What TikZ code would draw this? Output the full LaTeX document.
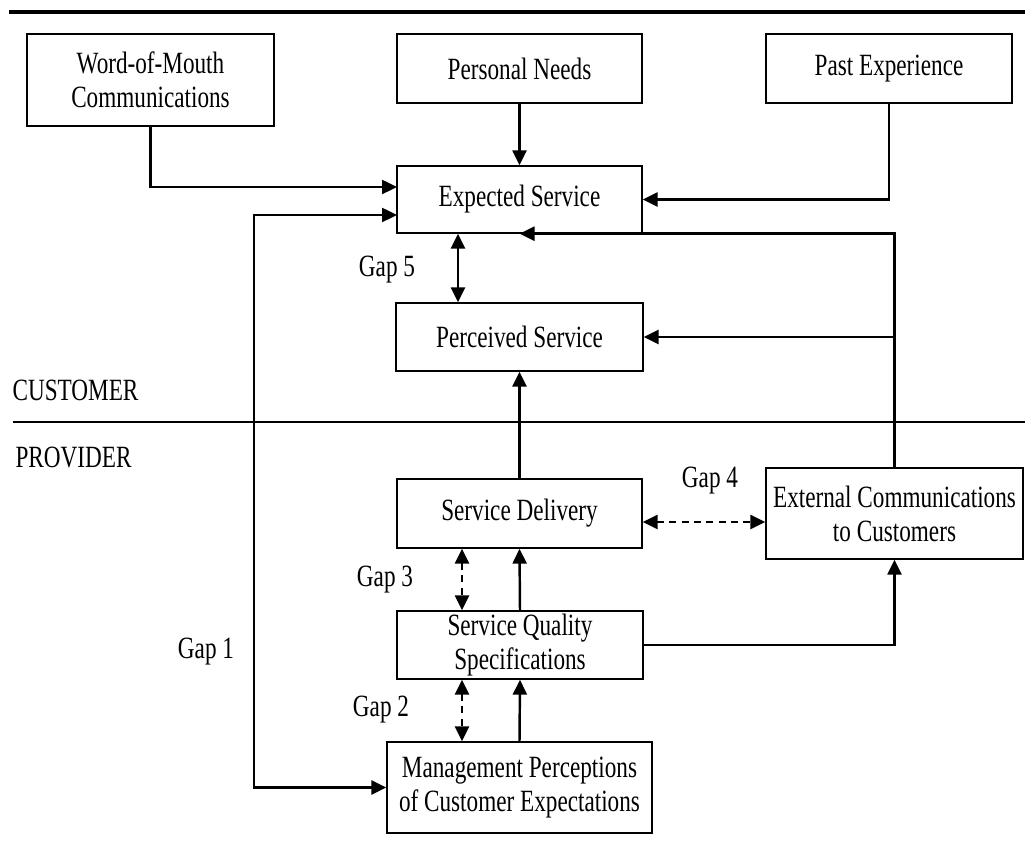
\documentclass[tikz,border=0pt]{standalone}
\usepackage{fontspec}
\setmainfont{Liberation Serif}[FakeStretch=0.75]
\usetikzlibrary{arrows.meta}

\begin{document}
\begin{tikzpicture}[x=0.02cm,y=-0.02cm,
	box/.style={draw,line width=0.8pt,inner sep=0pt,align=center,
		font=\fontsize{17.6}{19.4}\selectfont},
	lbl/.style={inner sep=0pt,font=\fontsize{17.6}{19.4}\selectfont},
	tip/.style={-{Triangle[length=0.3cm,width=0.28cm]}},
	arr/.style={line width=1.4pt,tip},
	gaparr/.style={line width=1.4pt,dash pattern=on 4pt off 3pt,
		{Triangle[length=0.3cm,width=0.28cm]}-{Triangle[length=0.3cm,width=0.28cm]}}]
	%Page size, coordinates in pixels
	\useasboundingbox (0,0) rectangle (1025,847);
	
	%Top rule and customer / provider line
	\draw[line width=2pt] (9,12) -- (1025,12);
	\draw[line width=1.6pt] (13,422) -- (1025,422);
	\node[lbl] (customer) at (75.5,390) {CUSTOMER};
	\node[lbl] (provider) at (73.5,457) {PROVIDER};
	
	%Customer side
	\node[box,minimum width=4.94cm,minimum height=1.84cm] (wom) at (150.5,80) {Word-of-Mouth\\Communications};
	\node[box,minimum width=4.9cm,minimum height=1.38cm] (needs) at (519.5,68.5) {Personal Needs};
	\node[box,minimum width=4.92cm,minimum height=1.38cm] (past) at (889,68.5) {Past Experience};
	\node[box,minimum width=4.9cm,minimum height=1.34cm] (expected) at (519.5,199.5) {Expected Service};
	\node[box,minimum width=4.94cm,minimum height=1.36cm] (perceived) at (519.5,337) {Perceived Service};
	
	%Provider side
	\node[box,minimum width=4.9cm,minimum height=1.38cm] (delivery) at (519.5,513.5) {Service Delivery};
	\node[box,minimum width=5.14cm,minimum height=1.82cm] (external) at (894.5,513.5) {External Communications\\to Customers};
	\node[box,minimum width=4.92cm,minimum height=1.36cm] (quality) at (520,645) {Service Quality\\Specifications};
	\node[box,minimum width=5.3cm,minimum height=1.82cm] (mgmt) at (519.5,787.5) {Management Perceptions\\of Customer Expectations};
	
	%Helper coordinates
	\coordinate (womin) at (397,187);
	\coordinate (gapin) at (397,215);
	\coordinate (gapcorner) at (254,215);
	\coordinate (gapfive) at (458,0);
	\coordinate (gapx) at (462,0);
	\coordinate (gapfour) at (0,522);
	
	%Inputs to expected service
	\draw[arr] (wom.south) |- (womin);
	\draw[arr] (needs.south) -- (expected.north);
	\draw[arr] (past.south) |- (expected.east);
	\draw[arr] (external.north) |- (expected.south);
	\draw[arr] (external.north |- perceived.east) -- (perceived.east);
	\draw[arr] (delivery.north) -- (perceived.south);
	
	%Gap 1
	\draw[gaparr,solid] (gapin) -- (gapcorner) |- (mgmt.west);
	\node[lbl] (gapone) at (206,652) {Gap 1};
	
	%Gap 5
	\draw[gaparr,solid] (expected.south -| gapfive) -- (perceived.north -| gapfive);
	\node[lbl] (gapfivelbl) at (387,270) {Gap 5};
	
	%Gap 4
	\draw[gaparr] (delivery.east |- gapfour) -- (external.west |- gapfour);
	\node[lbl] (gapfourlbl) at (710,481) {Gap 4};
	
	%Gap 3
	\draw[gaparr] (delivery.south -| gapx) -- (quality.north -| gapx);
	\draw[arr] (quality.north) -- (delivery.south);
	\node[lbl] (gapthree) at (385,580) {Gap 3};
	
	%Gap 2
	\draw[gaparr] (quality.south -| gapx) -- (mgmt.north -| gapx);
	\draw[arr] (mgmt.north) -- (quality.south);
	\node[lbl] (gaptwo) at (381,710) {Gap 2};
	
	%Specifications to external communications
	\draw[arr] (quality.east) -| (external.south);
\end{tikzpicture}
\end{document}
